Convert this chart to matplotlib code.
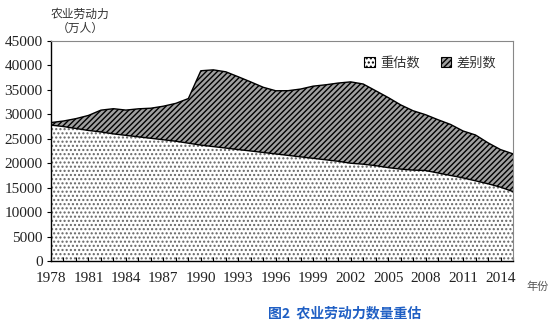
import matplotlib
matplotlib.use("Agg")
import matplotlib.pyplot as plt
import numpy as np

plt.rcParams['font.family'] = ['Noto Sans CJK SC', 'DejaVu Sans']
plt.rcParams['hatch.linewidth'] = 1.0

years = list(range(1978, 2016))
# 重估数 (re-estimated agricultural labour, 10k persons)
reestimate = [27800, 27500, 27100, 26700, 26400, 26000, 25700, 25400, 25100, 24800,
              24500, 24100, 23700, 23400, 23100, 22800, 22500, 22200, 21900, 21600,
              21300, 21000, 20700, 20400, 20000, 19800, 19500, 19100, 18800, 18600,
              18500, 18000, 17500, 17000, 16400, 15800, 15100, 14200]
# 差别数 (difference to the official figure)
difference = [518, 1134, 2022, 3077, 4459, 5151, 5168, 5730, 6154, 6863,
              7749, 9125, 15214, 15698, 15599, 14880, 14128, 13330, 12920, 13240,
              13877, 14768, 15343, 15999, 16640, 16404, 15330, 14342, 13141, 12131,
              11423, 10890, 10431, 9594, 9373, 8371, 7690, 7719]
legend_labels = ['重估数', '差别数']
xtick_years = list(range(1978, 2015, 3))
yticks = list(range(0, 45001, 5000))

fig = plt.figure(figsize=(5.52, 3.26), dpi=100)
ax = fig.add_axes([51/552, 1-261/326, (513-51)/552, (261-41)/326])

x = np.array(years)
low = np.array(reestimate)
top = low + np.array(difference)

ax.fill_between(x, 0, low, facecolor='white', edgecolor='#666666', hatch='....', linewidth=0)
ax.fill_between(x, low, top, facecolor='#a0a0a0', edgecolor='black', hatch='//////', linewidth=0)
ax.plot(x, low, color='black', lw=1.0)
ax.plot(x, top, color='black', lw=1.0)

ax.set_xlim(1978, 2015)
ax.set_ylim(0, 45000)
ax.set_yticks(yticks)
ax.set_xticks(xtick_years)
ax.set_xticks(years, minor=True)
serif = ['Liberation Serif', 'DejaVu Serif']
ax.set_yticklabels([str(v) for v in yticks], family=serif, fontsize=11, color='#222222')
ax.set_xticklabels([str(v) for v in xtick_years], family=serif, fontsize=11, color='#222222')
ax.tick_params(axis='y', direction='out', length=3, width=0.8, pad=3)
ax.tick_params(axis='x', which='both', direction='in', length=3, width=0.8, pad=8)
for s in ['top', 'right']:
    ax.spines[s].set_color('#888888')
    ax.spines[s].set_linewidth(0.8)
for s in ['left', 'bottom']:
    ax.spines[s].set_color('black')
    ax.spines[s].set_linewidth(1.0)

from matplotlib.patches import Patch
h1 = Patch(facecolor='white', edgecolor='black', hatch='....', linewidth=0.8)
h2 = Patch(facecolor='#a0a0a0', edgecolor='black', hatch='//////', linewidth=0.8)
ax.legend([h1, h2], legend_labels, ncol=2, frameon=False, loc='upper right',
          bbox_to_anchor=(0.99, 0.985), fontsize=9.5, handlelength=0.8, handleheight=0.8,
          columnspacing=1.6, handletextpad=0.4, labelcolor='#333333')

fig.text(80/552, 1-14/326, '农业劳动力', fontsize=8.5, ha='center', va='center', color='#333333')
fig.text(80/552, 1-28/326, '（万人）', fontsize=8.5, ha='center', va='center', color='#333333')
fig.text(538/552, 1-287/326, '年份', fontsize=8, ha='center', va='center', color='#555555')
fig.text(345/552, 1-313/326, '图2  农业劳动力数量重估', fontsize=10, fontweight='bold',
         ha='center', va='center', color='#1f5fc4')

fig.savefig('out.png', dpi=100)
